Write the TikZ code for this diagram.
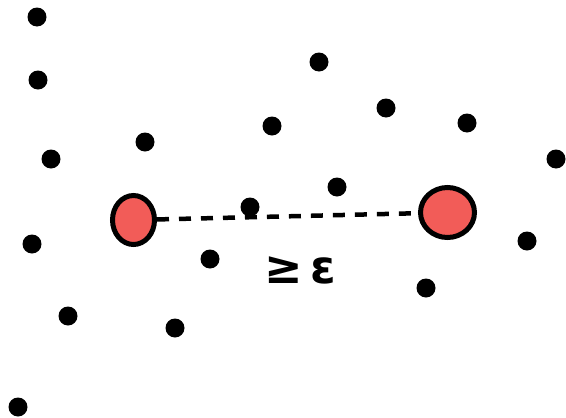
\documentclass[tikz,border=0pt]{standalone}
\usepackage{fontspec}
\usetikzlibrary{shapes.geometric}
\newfontfamily\symfont{DejaVu Sans}
\definecolor{ptred}{RGB}{242,92,88}
\begin{document}
\begin{tikzpicture}[x=1pt,y=-1pt,
  dot/.style={circle,fill=black,inner sep=0pt,minimum size=19pt},
  bigpt/.style={ellipse,draw=black,line width=5pt,fill=ptred,inner sep=0pt},
  gap/.style={dash pattern=on 12pt off 10pt,line width=4.5pt,black},
  lbl/.style={font=\symfont\bfseries\fontsize{46}{48}\selectfont}]
\useasboundingbox (0,0) rectangle (566,418);
\node[dot] (d1) at (37,17) {};
\node[dot] (d2) at (38,80) {};
\node[dot] (d3) at (51,159) {};
\node[dot] (d4) at (32,244) {};
\node[dot] (d5) at (68,316) {};
\node[dot] (d6) at (18,407) {};
\node[dot] (d7) at (145,142) {};
\node[dot] (d8) at (272,126) {};
\node[dot] (d9) at (319,62) {};
\node[dot] (d10) at (386,108) {};
\node[dot] (d11) at (467,123) {};
\node[dot] (d12) at (556,159) {};
\node[dot] (d13) at (337,187) {};
\node[dot] (d14) at (250,207) {};
\node[dot] (d15) at (210,259) {};
\node[dot] (d16) at (175,328) {};
\node[dot] (d17) at (426,288) {};
\node[dot] (d18) at (527,241) {};
\node[bigpt,minimum width=42pt,minimum height=49pt] (a) at (133.5,220) {};
\node[bigpt,minimum width=54pt,minimum height=50pt] (b) at (447.5,212.5) {};
\draw[gap] (a) -- (b);
\node[lbl] (e) at (300,270) {≥\,ε};
\end{tikzpicture}
\end{document}
